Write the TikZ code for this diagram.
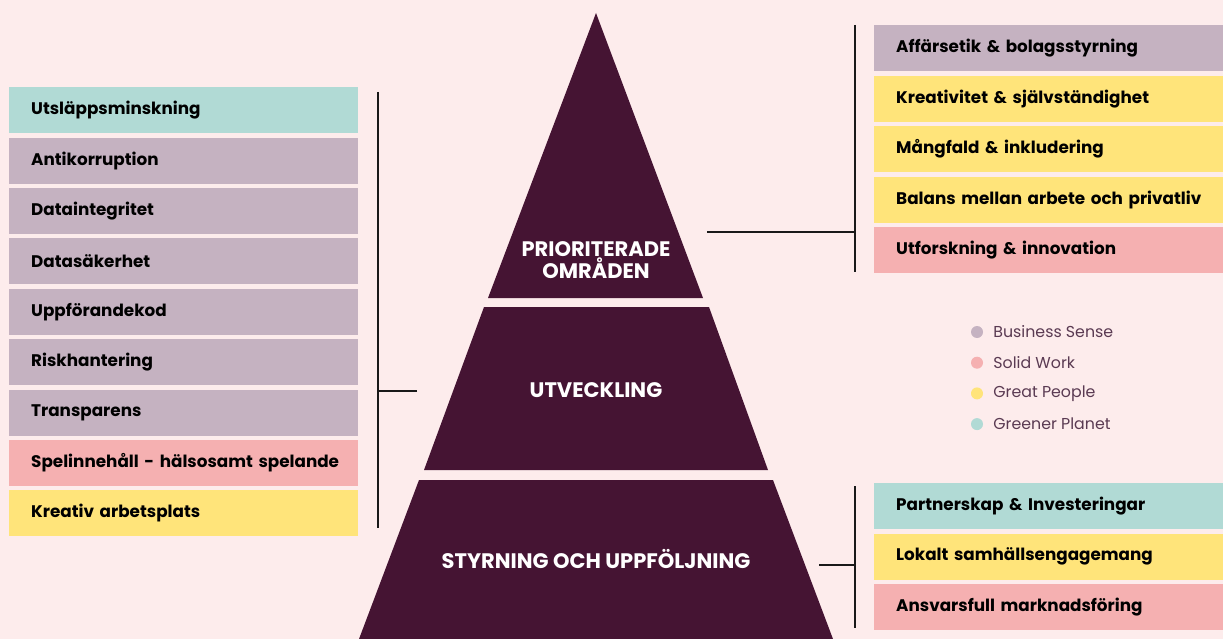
\documentclass[tikz,border=0pt]{standalone}
\usepackage{fontspec}
\setmainfont{Poppins}
\usetikzlibrary{positioning}
\definecolor{bg}{HTML}{FDECEC}
\definecolor{plum}{HTML}{451433}
\definecolor{sense}{HTML}{C5B2C1}
\definecolor{solid}{HTML}{F5B0B1}
\definecolor{people}{HTML}{FFE47A}
\definecolor{planet}{HTML}{B1DAD5}
\definecolor{legtext}{HTML}{5A3A52}
\tikzset{
  box/.style={anchor=north west,fill=#1,minimum width=349pt,minimum height=46pt,
    text width=305pt,inner sep=0pt,align=left,font=\fontsize{16.8}{20}\selectfont\bfseries},
  tier/.style={text=white,align=center,font=\fontsize{21}{22}\selectfont\bfseries},
  bracket/.style={line width=1.8pt,draw=black!90},
  legdot/.style={circle,fill=#1,minimum size=12pt,inner sep=0pt},
  legtxt/.style={text=legtext,inner sep=0pt,font=\fontsize{15.8}{18}\selectfont},
}
\begin{document}
\begin{tikzpicture}[x=1pt,y=-1pt]
    \useasboundingbox[fill=bg](0,0) rectangle (1223,639);
    % pyramid
    \fill[plum](596,13)--(703,298)--(488,298)--cycle;
    \fill[plum](484,307)--(709,307)--(768,470)--(424,470)--cycle;
    \fill[plum](419,480)--(773,480)--(833,639)--(359,639)--cycle;
    \node[tier](top) at (596,260){PRIORITERADE\\OMRÅDEN};
    \node[tier](mid) at (596,390){UTVECKLING};
    \node[tier](base) at (596,559){STYRNING OCH UPPFÖLJNING};
    % left list
    \foreach \i/\t/\c in {0/Utsläppsminskning/planet,1/Antikorruption/sense,2/Dataintegritet/sense,
        3/Datasäkerhet/sense,4/Uppförandekod/sense,5/Riskhantering/sense,6/Transparens/sense,
        7/Spelinnehåll - hälsosamt spelande/solid,8/Kreativ arbetsplats/people}
        \node[box=\c](l\i) at (9,{87+50.4*\i}){\mbox{\t}};
    % right lists
    \foreach \i/\t/\c in {0/Affärsetik \& bolagsstyrning/sense,1/Kreativitet \& självständighet/people,
        2/Mångfald \& inkludering/people,3/Balans mellan arbete och privatliv/people,
        4/Utforskning \& innovation/solid}
        \node[box=\c](r\i) at (874,{25+50.5*\i}){\mbox{\t}};
    \foreach \i/\t/\c in {0/Partnerskap \& Investeringar/planet,1/Lokalt samhällsengagemang/people,
        2/Ansvarsfull marknadsföring/solid}
        \node[box=\c](s\i) at (874,{483+50.5*\i}){\mbox{\t}};
    % brackets
    \coordinate(lt) at (378,92); \coordinate(lb) at (378,528);
    \coordinate(lj) at (378,391); \coordinate(lm) at (417,391);
    \draw[bracket](lt)--(lb);
    \draw[bracket](lm)--(lj);
    \coordinate(rt) at (855,25); \coordinate(rb) at (855,272);
    \coordinate(rj) at (855,232); \coordinate(rm) at (707,232);
    \draw[bracket](rt)--(rb);
    \draw[bracket](rm)--(rj);
    \coordinate(st) at (855,486); \coordinate(sb) at (855,628);
    \coordinate(sj) at (855,565); \coordinate(sm) at (819,565);
    \draw[bracket](st)--(sb);
    \draw[bracket](sm)--(sj);
    % legend
    \foreach \i/\t/\c in {0/Business Sense/sense,1/Solid Work/solid,2/Great People/people,3/Greener Planet/planet}
    {
        \node[legdot=\c](d\i) at (977,{332+30.7*\i}){};
        \node[legtxt,right=10pt of d\i](t\i){\t};
    }
\end{tikzpicture}
\end{document}
